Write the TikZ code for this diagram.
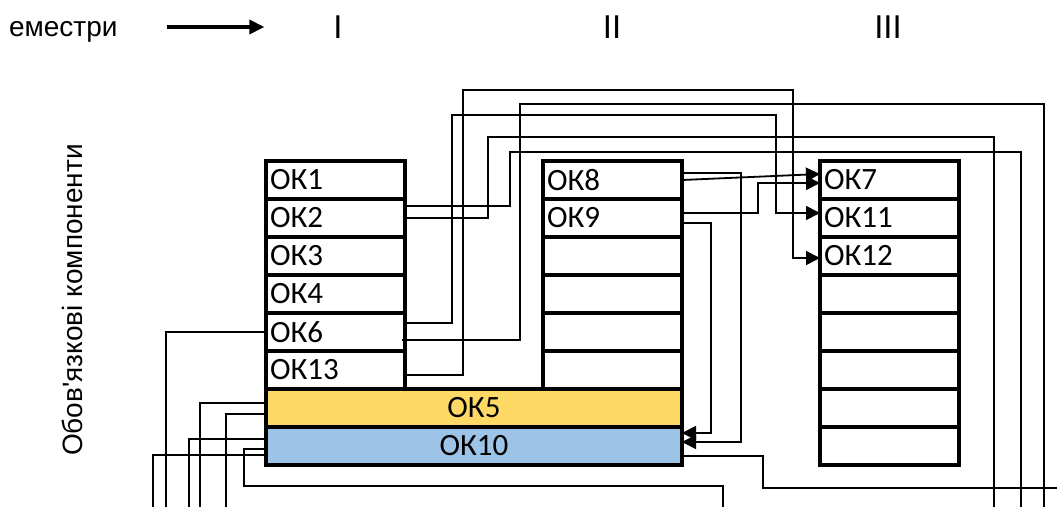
\documentclass[tikz,border=0pt]{standalone}
\usepackage{fontspec}
\setmainfont{Carlito}
\newfontfamily\arialfont{Liberation Sans}
\usetikzlibrary{arrows.meta,positioning}
\definecolor{okyellow}{HTML}{FFD966}
\definecolor{okblue}{HTML}{9DC3E6}

\begin{document}
\begin{tikzpicture}[
  x=0.5pt, y=-0.5pt,
  node distance=0pt,
  cell/.style={draw, line width=1.6pt, outer sep=0pt, minimum height=19pt, text width=65.5pt,
    inner xsep=2pt, inner ysep=1pt, align=left, font=\fontsize{15.5}{18}\selectfont},
  bar/.style={cell, text width=204pt, align=center},
  hdr/.style={font=\arialfont\fontsize{14}{16}\selectfont},
  sem/.style={font=\arialfont\fontsize{16.5}{18}\selectfont},
  ln/.style={line width=0.9pt},
  ar/.style={ln, -{Triangle[length=7pt,width=7pt]}},
  hdrar/.style={line width=1.7pt, -{Triangle[length=7.5pt,width=7pt]}}]

\useasboundingbox (0,0) rectangle (1057,509);

% header
\node[hdr, anchor=west] (sem) at (2,32) {еместри};
\node[sem] (s1) at (338,27) {I};
\node[sem] (s2) at (612,27) {II};
\node[sem] (s3) at (888,27) {III};
\draw[hdrar, shorten <=21pt, shorten >=31pt] (sem.east |- s1.west) -- (s1.west);
\node[hdr, rotate=90] (side) at (72,300) {Обов'язкові компоненти};

% semester I
\node[cell, anchor=north west] (ok1) at (266,161) {ОК1};
\node[cell, below=of ok1] (ok2) {ОК2};
\node[cell, below=of ok2] (ok3) {ОК3};
\node[cell, below=of ok3] (ok4) {ОК4};
\node[cell, below=of ok4] (ok6) {ОК6};
\node[cell, below=of ok6] (ok13) {ОК13};
\node[bar, fill=okyellow, anchor=north west] (ok5) at (ok13.south west) {ОК5};
\node[bar, fill=okblue, anchor=north west] (ok10) at (ok5.south west) {ОК10};

% semester II
\node[cell, anchor=north west] (ok8) at (543,161) {ОК8};
\node[cell, below=of ok8] (ok9) {ОК9};
\foreach \i/\p in {3/ok9,4/ii3,5/ii4,6/ii5}
  \node[cell, below=of \p] (ii\i) {};

% semester III
\node[cell, anchor=north west] (ok7) at (820,161) {ОК7};
\node[cell, below=of ok7] (ok11) {ОК11};
\node[cell, below=of ok11] (ok12) {ОК12};
\foreach \i/\p in {4/ok12,5/iii4,6/iii5,7/iii6,8/iii7}
  \node[cell, below=of \p] (iii\i) {};

% free ends at the lower edge
\coordinate (b1) at (1021,507);
\coordinate (b2) at (994,507);
\coordinate (b3) at (1044,507);
\coordinate (b4) at (166,507);
\coordinate (b5) at (200,507);
\coordinate (b6) at (226,507);
\coordinate (b7) at (189,507);
\coordinate (b8) at (723,507);
\coordinate (b9) at (153,507);
\coordinate (e10) at (1057,488);

% links over the top
\draw[ln] ([yshift=6pt]ok2.east) -- ++(105,0) |- (1021,152) -- (b1);
\draw[ln] (ok2.east) -- ++(83,0) |- (994,137) -- (b2);
\draw[ar] ([yshift=4.5pt]ok6.east) -- ++(47,0) |- (776,115) |- ([yshift=2.5pt]ok11.west);
\draw[ln] ([xshift=-1.5pt,yshift=-4pt]ok6.east) -- ++(118,0) |- (1044,104) -- (b3);
\draw[ar] ([yshift=-2.5pt]ok13.east) -- ++(58,0) |- (793,90) |- ([yshift=-1pt]ok12.west);

% links from semester II
\draw[ar] (ok8.east) -- ([yshift=3pt]ok7.west);
\draw[ar] ([yshift=2.5pt]ok9.east) -- ++(76,0) |- ([yshift=-1.5pt]ok7.west);
\draw[ar] ([yshift=3.5pt]ok8.east) -- ++(59,0) |- ([yshift=2pt]ok10.east);
\draw[ar] ([yshift=-2.5pt]ok9.east) -- ++(29,0) |- ([yshift=6.5pt]ok10.east);
\draw[ln] ([yshift=-5pt]ok10.east) -- ++(81,0) |- (e10);

% links down the left
\draw[ln] (ok6.west) -| (b4);
\draw[ln] ([yshift=2.5pt]ok5.west) -| (b5);
\draw[ln] ([yshift=-3pt]ok5.west) -| (b6);
\draw[ln] ([yshift=3.5pt]ok10.west) -| (b7);
\draw[ln] ([yshift=-1.5pt]ok10.west) -| (244,486) -| (b8);
\draw[ln] ([yshift=-4.5pt]ok10.west) -| (b9);
\end{tikzpicture}
\end{document}
